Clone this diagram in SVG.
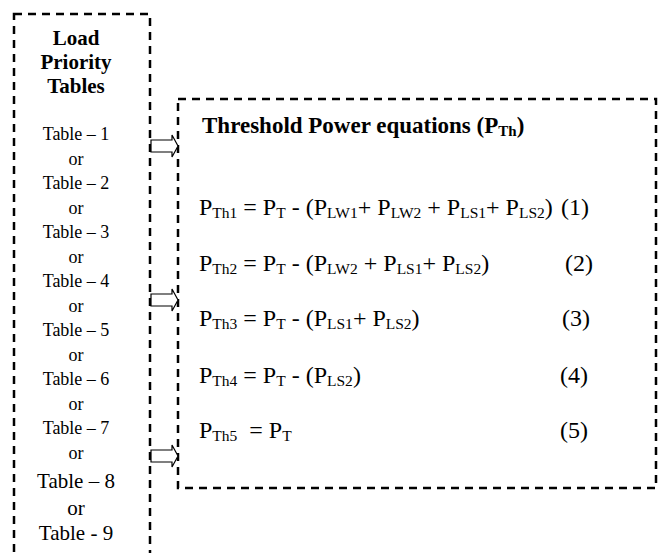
<svg xmlns="http://www.w3.org/2000/svg" width="664" height="553" viewBox="0 0 664 553">
<style>
.box{fill:none;stroke:#000;stroke-width:2.5;stroke-dasharray:8 6}
text{font-family:"Liberation Serif","Times New Roman",Times,serif;fill:#000}
.lt{font-size:18px;text-anchor:middle}
.lg{font-size:21px;text-anchor:middle}
.hd{font-size:21px;font-weight:bold;text-anchor:middle}
.ttl{font-size:23px;font-weight:bold}
.eq{font-size:24px}
.s{font-size:15.5px}
.st{font-size:15px}
.arr{fill:#fff;stroke:#000;stroke-width:1.2;stroke-linejoin:miter}
</style>
<defs>
<path id="blk" d="M0,-6 H21 V-11 L27,0 L21,11 V6 H0 Z"/>
</defs>
<g id="load-priority-tables">
<rect class="box" x="14" y="14" width="136" height="560"/>
<text class="hd" x="76" y="45">Load</text>
<text class="hd" x="76" y="69">Priority</text>
<text class="hd" x="76" y="93">Tables</text>
<text class="lt" x="76" y="140">Table – 1</text>
<text class="lt" x="76" y="164.5">or</text>
<text class="lt" x="76" y="189">Table – 2</text>
<text class="lt" x="76" y="213.5">or</text>
<text class="lt" x="76" y="238">Table – 3</text>
<text class="lt" x="76" y="262.5">or</text>
<text class="lt" x="76" y="287">Table – 4</text>
<text class="lt" x="76" y="311.5">or</text>
<text class="lt" x="76" y="336">Table – 5</text>
<text class="lt" x="76" y="360.5">or</text>
<text class="lt" x="76" y="385">Table – 6</text>
<text class="lt" x="76" y="409.5">or</text>
<text class="lt" x="76" y="434">Table – 7</text>
<text class="lt" x="76" y="458.5">or</text>
<text class="lg" x="76" y="488">Table – 8</text>
<text class="lg" x="76" y="515">or</text>
<text class="lg" x="76" y="540">Table - 9</text>
</g>
<g id="threshold-power-equations">
<rect class="box" x="178" y="99" width="478" height="389"/>
<text class="ttl" x="202" y="133">Threshold Power equations (P<tspan class="st" dy="3">Th</tspan><tspan dy="-3">)</tspan></text>
<text class="eq" x="199" y="215" xml:space="preserve">P<tspan class="s" dy="3">Th1</tspan><tspan dy="-3"> = P</tspan><tspan class="s" dy="3">T</tspan><tspan dy="-3"> - (P</tspan><tspan class="s" dy="3">LW1</tspan><tspan dy="-3">+ P</tspan><tspan class="s" dy="3">LW2</tspan><tspan dy="-3"> + P</tspan><tspan class="s" dy="3">LS1</tspan><tspan dy="-3">+ P</tspan><tspan class="s" dy="3">LS2</tspan><tspan dy="-3">)</tspan></text>
<text class="eq" x="561" y="215">(1)</text>
<text class="eq" x="199" y="271" xml:space="preserve">P<tspan class="s" dy="3">Th2</tspan><tspan dy="-3"> = P</tspan><tspan class="s" dy="3">T</tspan><tspan dy="-3"> - (P</tspan><tspan class="s" dy="3">LW2</tspan><tspan dy="-3"> + P</tspan><tspan class="s" dy="3">LS1</tspan><tspan dy="-3">+ P</tspan><tspan class="s" dy="3">LS2</tspan><tspan dy="-3">)</tspan></text>
<text class="eq" x="565" y="271">(2)</text>
<text class="eq" x="199" y="326" xml:space="preserve">P<tspan class="s" dy="3">Th3</tspan><tspan dy="-3"> = P</tspan><tspan class="s" dy="3">T</tspan><tspan dy="-3"> - (P</tspan><tspan class="s" dy="3">LS1</tspan><tspan dy="-3">+ P</tspan><tspan class="s" dy="3">LS2</tspan><tspan dy="-3">)</tspan></text>
<text class="eq" x="562" y="326">(3)</text>
<text class="eq" x="199" y="383" xml:space="preserve">P<tspan class="s" dy="3">Th4</tspan><tspan dy="-3"> = P</tspan><tspan class="s" dy="3">T</tspan><tspan dy="-3"> - (P</tspan><tspan class="s" dy="3">LS2</tspan><tspan dy="-3">)</tspan></text>
<text class="eq" x="560" y="383">(4)</text>
<text class="eq" x="199" y="438" xml:space="preserve">P<tspan class="s" dy="3">Th5</tspan><tspan dy="-3">  = P</tspan><tspan class="s" dy="3">T</tspan></text>
<text class="eq" x="560" y="438">(5)</text>
</g>
<g id="connectors">
<use href="#blk" class="arr" x="151" y="146"/>
<use href="#blk" class="arr" x="151" y="300"/>
<use href="#blk" class="arr" x="151" y="456"/>
</g>
</svg>
